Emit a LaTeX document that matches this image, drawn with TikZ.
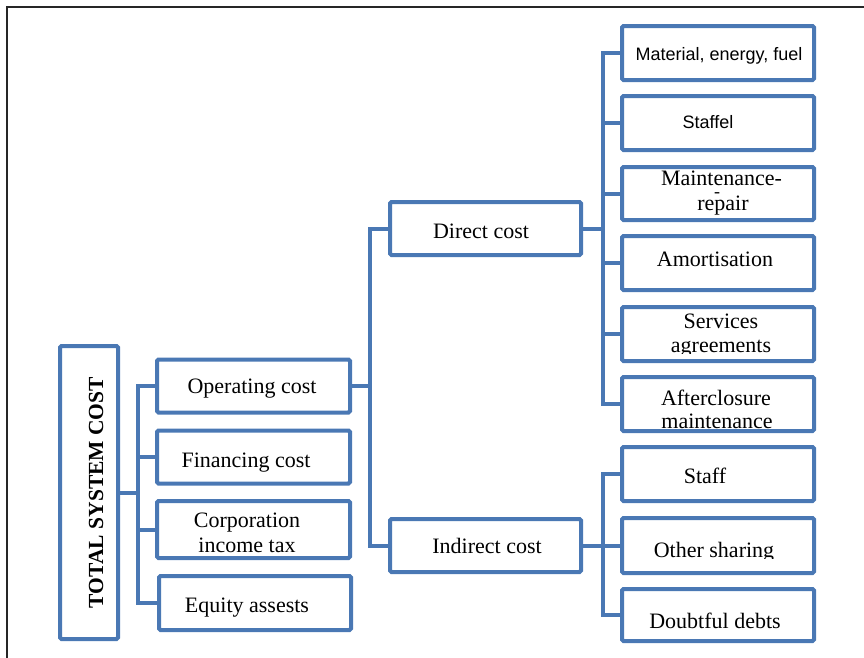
\documentclass[tikz,border=0pt]{standalone}
\usepackage{fontspec}
\setmainfont{Liberation Serif}
\newfontfamily\arialf{Liberation Sans}
\definecolor{boxblue}{RGB}{74,120,180}
\begin{document}
\begin{tikzpicture}[x=1pt,y=-1pt,
  box/.style={draw=boxblue,line width=4pt,fill=white,rounded corners=1.5pt,inner sep=0pt,minimum width=193pt,minimum height=53pt},
  rbox/.style={box,minimum width=192pt},
  conn/.style={draw=boxblue,line width=4pt},
  txt/.style={anchor=base,inner sep=0pt,font=\fontsize{22}{24}\selectfont},
  stxt/.style={anchor=base,inner sep=0pt,font=\arialf\fontsize{18}{20}\selectfont}]
\useasboundingbox (0,0) rectangle (864,657);
% outer frame
\draw[line width=1.3pt,black!85] (7,700) -- (7,7) -- (900,7);
% boxes
\node[box,minimum width=58pt,minimum height=293pt] (tot) at (89,492.5) {};
\node[box] (op) at (253.5,386) {};
\node[box] (fin) at (253.5,457) {};
\node[box,minimum height=57pt] (corp) at (253.5,529.5) {};
\node[box,minimum width=192pt,minimum height=54pt] (eq) at (255,603) {};
\node[box,minimum width=191pt] (dir) at (485.5,228.5) {};
\node[box,minimum width=191pt] (ind) at (485.5,545.5) {};
\node[rbox,minimum height=54pt] (mat) at (718,53) {};
\node[rbox,minimum height=54pt] (sta) at (718,123) {};
\node[rbox] (mai) at (718,193.5) {};
\node[rbox,minimum height=54pt] (amo) at (718,263) {};
\node[rbox,minimum height=54pt] (ser) at (718,334) {};
\node[rbox,minimum height=54pt] (aft) at (718,404) {};
\node[rbox,minimum height=54pt] (stf) at (718,474) {};
\node[rbox,minimum height=55pt] (oth) at (718,545.5) {};
\node[rbox,minimum height=52pt] (dou) at (718,615) {};
% junctions
\coordinate (j1) at (138,386);
\coordinate (j2) at (370,386);
\coordinate (j3) at (603,228.5);
\coordinate (j4) at (603,545.5);
% connectors
\draw[conn] (tot.east) -- (j1 |- tot.east);
\draw[conn] (op.west) -- (j1) |- (eq.west);
\draw[conn] (j1 |- fin.west) -- (fin.west);
\draw[conn] (j1 |- corp.west) -- (corp.west);
\draw[conn] (op.east) -- (j2);
\draw[conn] (dir.west) -| (j2) |- (ind.west);
\draw[conn] (dir.east) -- (j3);
\draw[conn] (mat.west) -| (j3) |- (aft.west);
\draw[conn] (j3 |- sta.west) -- (sta.west);
\draw[conn] (j3 |- mai.west) -- (mai.west);
\draw[conn] (j3 |- amo.west) -- (amo.west);
\draw[conn] (j3 |- ser.west) -- (ser.west);
\draw[conn] (ind.east) -- (oth.west);
\draw[conn] (stf.west) -| (j4) |- (dou.west);
% texts
\node[txt,font=\bfseries\fontsize{21.5}{24}\selectfont,rotate=90] (totT) at (103,492.5) {TOTAL SYSTEM COST};
\node[txt] (opT) at (252,393) {Operating cost};
\node[txt] (finT) at (246,467) {Financing cost};
\node[txt] (corpA) at (247,527) {Corporation};
\node[txt] (corpB) at (247,552) {income tax};
\node[txt] (eqT) at (247,612) {Equity assests};
\node[txt] (dirT) at (481,238) {Direct cost};
\node[txt] (indT) at (487,553) {Indirect cost};
\node[stxt] (matT) at (719,60) {Material, energy, fuel};
\node[stxt] (staT) at (708,128) {Staffel};
\begin{scope}
\clip (620,168) rectangle (816,219.5);
\node[txt] (maiA) at (721.5,185) {Maintenance-};
\node[txt,font=\fontsize{18}{20}\selectfont] (maiB) at (717,197) {-};
\node[txt] (maiC) at (723,210) {repair};
\end{scope}
\node[txt] (amoT) at (715,266) {Amortisation};
\begin{scope}
\clip (620,307) rectangle (816,353.5);
\node[txt] (serA) at (721,328) {Services};
\node[txt] (serB) at (721,352) {agreements};
\end{scope}
\begin{scope}
\clip (620,377) rectangle (816,430.5);
\node[txt] (aftA) at (716,405) {Afterclosure};
\node[txt] (aftB) at (717,428) {maintenance};
\end{scope}
\node[txt] (stfT) at (705,483) {Staff};
\begin{scope}
\clip (620,518) rectangle (816,558.5);
\node[txt] (othT) at (714,557) {Other sharing};
\end{scope}
\node[txt] (douT) at (715,628) {Doubtful debts};
\end{tikzpicture}
\end{document}
